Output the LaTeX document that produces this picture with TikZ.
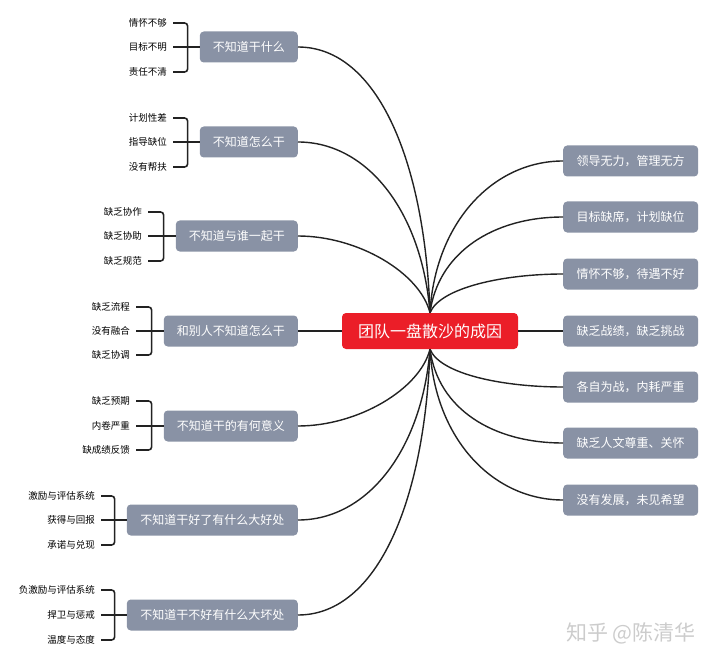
\documentclass[tikz,border=0pt]{standalone}
\usepackage{fontspec}
\setmainfont{Noto Sans CJK SC}
\usetikzlibrary{positioning}
\definecolor{boxgray}{RGB}{137,146,165}
\definecolor{rootred}{RGB}{235,30,40}
\definecolor{linkgray}{RGB}{34,34,34}
\begin{document}
\begin{tikzpicture}[x=1pt, y=-1pt]
			\tikzset{%
				rootnode/.style={rectangle,rounded corners=4pt,fill=rootred,text=white,inner xsep=16pt,minimum height=36pt,font=\fontsize{16}{18}\selectfont},
				causenode/.style={rectangle,rounded corners=4pt,fill=boxgray,text=white,inner xsep=13pt,minimum height=31pt,font=\fontsize{12}{14}\selectfont},
				leafnode/.style={anchor=east,inner sep=0pt,font=\fontsize{9.5}{11}\selectfont},
				link/.style={draw=linkgray,line width=1.4pt},
				brace/.style={draw=linkgray,line width=1.6pt,rounded corners=3pt}
			}
			\useasboundingbox (0,0) rectangle (720,663);
			\node[rootnode](root) at (430,331){团队一盘散沙的成因};
			% left side
			\node[causenode, anchor=east](q1) at (298,47){不知道干什么};
			\node[causenode, anchor=east](q2) at (298,142){不知道怎么干};
			\node[causenode, anchor=east](q3) at (298,236){不知道与谁一起干};
			\node[causenode, anchor=east](q4) at (298,331){和别人不知道怎么干};
			\node[causenode, anchor=east](q5) at (298,426){不知道干的有何意义};
			\node[causenode, anchor=east, minimum width=171pt](q6) at (298,520){不知道干好了有什么大好处};
			\node[causenode, anchor=east, minimum width=171pt](q7) at (298,615){不知道干不好有什么大坏处};
			% right side
			\node[causenode, anchor=west, minimum width=135pt](r1) at (563,161){领导无力，管理无方};
			\node[causenode, anchor=west, minimum width=135pt](r2) at (563,217){目标缺席，计划缺位};
			\node[causenode, anchor=west, minimum width=135pt](r3) at (563,274){情怀不够，待遇不好};
			\node[causenode, anchor=west, minimum width=135pt](r4) at (563,331){缺乏战绩，缺乏挑战};
			\node[causenode, anchor=west, minimum width=135pt](r5) at (563,387){各自为战，内耗严重};
			\node[causenode, anchor=west, minimum width=135pt](r6) at (563,443){缺乏人文尊重、关怀};
			\node[causenode, anchor=west, minimum width=135pt](r7) at (563,500){没有发展，未见希望};
			% leaves
			\node[leafnode](q1a) at (167,23){情怀不够};
			\node[leafnode](q1b) at (167,47){目标不明};
			\node[leafnode](q1c) at (167,72){责任不清};
			\node[leafnode](q2a) at (167,118){计划性差};
			\node[leafnode](q2b) at (167,142){指导缺位};
			\node[leafnode](q2c) at (167,167){没有帮扶};
			\node[leafnode](q3a) at (142,212){缺乏协作};
			\node[leafnode](q3b) at (142,236){缺乏协助};
			\node[leafnode](q3c) at (142,261){缺乏规范};
			\node[leafnode](q4a) at (130,307){缺乏流程};
			\node[leafnode](q4b) at (130,331){没有融合};
			\node[leafnode](q4c) at (130,355){缺乏协调};
			\node[leafnode](q5a) at (130,401){缺乏预期};
			\node[leafnode](q5b) at (130,426){内卷严重};
			\node[leafnode](q5c) at (130,450){缺成绩反馈};
			\node[leafnode](q6a) at (95,496){激励与评估系统};
			\node[leafnode](q6b) at (95,520){获得与回报};
			\node[leafnode](q6c) at (95,545){承诺与兑现};
			\node[leafnode](q7a) at (95,590){负激励与评估系统};
			\node[leafnode](q7b) at (95,615){捍卫与惩戒};
			\node[leafnode](q7c) at (95,640){温度与态度};
			\foreach \q in {q1,q2,q3,q4,q5,q6,q7}{
				\draw[brace] ([xshift=6pt]\q a.east) -| ([xshift=-12pt]\q.west) |- ([xshift=6pt]\q c.east);
				\draw[brace] ([xshift=6pt]\q b.east) -- (\q.west);
			}
			% links to the root
			\draw[link] (q1.east) .. controls +(80,0) and +(-5,-150) .. (root.north);
			\draw[link] (q2.east) .. controls +(70,0) and +(-8,-100) .. (root.north);
			\draw[link] (q3.east) .. controls +(60,0) and +(-10,-40) .. (root.north);
			\draw[link] (q4.east) -- (root.west);
			\draw[link] (q5.east) .. controls +(60,0) and +(-10,40) .. (root.south);
			\draw[link] (q6.east) .. controls +(70,0) and +(-8,100) .. (root.south);
			\draw[link] (q7.east) .. controls +(80,0) and +(-5,150) .. (root.south);
			\draw[link] (root.north) .. controls +(5,-90) and +(-70,0) .. (r1.west);
			\draw[link] (root.north) .. controls +(8,-60) and +(-70,0) .. (r2.west);
			\draw[link] (root.north) .. controls +(10,-25) and +(-60,0) .. (r3.west);
			\draw[link] (root.east) -- (r4.west);
			\draw[link] (root.south) .. controls +(10,25) and +(-60,0) .. (r5.west);
			\draw[link] (root.south) .. controls +(8,60) and +(-70,0) .. (r6.west);
			\draw[link] (root.south) .. controls +(5,90) and +(-70,0) .. (r7.west);
			\node[text=gray!40, font=\fontsize{21}{23}\selectfont](mark) at (631,633){知乎 @陈清华};
		\end{tikzpicture}
\end{document}
